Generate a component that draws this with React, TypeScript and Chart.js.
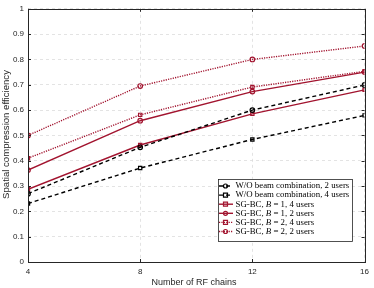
import React, { useEffect, useRef } from "react";
import { Chart, registerables } from "chart.js";

Chart.register(...registerables);

const rfChains = [4, 8, 12, 16];
const yTicks = [0, 0.1, 0.2, 0.3, 0.4, 0.5, 0.6, 0.7, 0.8, 0.9, 1];
const xTitle = "Number of RF chains";
const yTitle = "Spatial compression efficiency";

const woBc2Users = [0.27, 0.453, 0.6, 0.699];
const woBc4Users = [0.231, 0.371, 0.484, 0.579];
const sgB1Users4 = [0.287, 0.462, 0.585, 0.68];
const sgB1Users2 = [0.363, 0.558, 0.673, 0.75];
const sgB2Users4 = [0.41, 0.581, 0.691, 0.753];
const sgB2Users2 = [0.5, 0.695, 0.8, 0.853];

const BLACK = "#000000";
const RED = "#A2142F";
const AXIS = "#262626";
const SANS = "'Liberation Sans', Arial, sans-serif";
const SERIF = "'Liberation Serif', 'Times New Roman', serif";

type Series = {
  pre: string;
  italic?: string;
  post: string;
  data: number[];
  color: string;
  dash: number[];
  marker: "circle" | "rect";
};

const series: Series[] = [
  { pre: "W/O beam combination, 2 users", post: "", data: woBc2Users, color: BLACK, dash: [4, 3], marker: "circle" },
  { pre: "W/O beam combination, 4 users", post: "", data: woBc4Users, color: BLACK, dash: [4, 3], marker: "rect" },
  { pre: "SG-BC, ", italic: "B", post: " = 1, 4 users", data: sgB1Users4, color: RED, dash: [], marker: "rect" },
  { pre: "SG-BC, ", italic: "B", post: " = 1, 2 users", data: sgB1Users2, color: RED, dash: [], marker: "circle" },
  { pre: "SG-BC, ", italic: "B", post: " = 2, 4 users", data: sgB2Users4, color: RED, dash: [1.2, 1.2], marker: "rect" },
  { pre: "SG-BC, ", italic: "B", post: " = 2, 2 users", data: sgB2Users2, color: RED, dash: [1.2, 1.2], marker: "circle" },
];

function drawMarker(ctx: CanvasRenderingContext2D, kind: string, x: number, y: number, r: number) {
  ctx.beginPath();
  if (kind === "rect") ctx.rect(x - r, y - r, 2 * r, 2 * r);
  else ctx.arc(x, y, r, 0, Math.PI * 2);
  ctx.stroke();
}

const framePlugin = {
  id: "frame",
  afterDraw(chart: any) {
    const { ctx, chartArea: a } = chart;
    ctx.save();
    ctx.strokeStyle = AXIS;
    ctx.lineWidth = 1;
    ctx.setLineDash([]);
    ctx.strokeRect(Math.round(a.left) + 0.5, Math.round(a.top) + 0.5, Math.round(a.right - a.left), Math.round(a.bottom - a.top));
    // inner ticks
    const xs = chart.scales.x;
    const ys = chart.scales.y;
    ctx.beginPath();
    rfChains.forEach((v) => {
      const px = Math.round(xs.getPixelForValue(v)) + 0.5;
      ctx.moveTo(px, a.bottom); ctx.lineTo(px, a.bottom - 3);
      ctx.moveTo(px, a.top); ctx.lineTo(px, a.top + 3);
    });
    yTicks.forEach((v) => {
      const py = Math.round(ys.getPixelForValue(v)) + 0.5;
      ctx.moveTo(a.left, py); ctx.lineTo(a.left + 3, py);
      ctx.moveTo(a.right, py); ctx.lineTo(a.right - 3, py);
    });
    ctx.stroke();

    // axis titles
    ctx.fillStyle = AXIS;
    ctx.textAlign = "center";
    ctx.textBaseline = "middle";
    ctx.font = `9px ${SANS}`;
    ctx.fillText(xTitle, 194, 283);
    ctx.save();
    ctx.translate(6.5, 134.5);
    ctx.rotate(-Math.PI / 2);
    ctx.font = `9.6px ${SANS}`;
    ctx.fillText(yTitle, 0, 0);
    ctx.restore();

    // legend
    const bx = 218, by = 179, bw = 134, bh = 62;
    ctx.fillStyle = "#ffffff";
    ctx.fillRect(bx, by, bw, bh);
    ctx.strokeStyle = AXIS;
    ctx.lineWidth = 0.8;
    ctx.strokeRect(bx + 0.5, by + 0.5, bw, bh);
    ctx.font = `10px ${SERIF}`;
    const fs = (10 * 114) / ctx.measureText(series[0].pre).width;
    const rowH = 9.1;
    ctx.textAlign = "left";
    ctx.textBaseline = "middle";
    series.forEach((s, i) => {
      const cy = by + 7 + i * rowH;
      ctx.strokeStyle = s.color;
      ctx.lineWidth = 1.4;
      ctx.setLineDash(s.dash);
      ctx.beginPath();
      ctx.moveTo(bx + 1, cy);
      ctx.lineTo(bx + 15, cy);
      ctx.stroke();
      ctx.setLineDash([]);
      ctx.lineWidth = 1.2;
      drawMarker(ctx, s.marker, bx + 7.5, cy, 2);
      ctx.fillStyle = "#000";
      let tx = bx + 17.5;
      ctx.font = `${fs}px ${SERIF}`;
      ctx.fillText(s.pre, tx, cy);
      tx += ctx.measureText(s.pre).width;
      if (s.italic) {
        ctx.font = `italic ${fs}px ${SERIF}`;
        ctx.fillText(s.italic, tx, cy);
        tx += ctx.measureText(s.italic).width;
        ctx.font = `${fs}px ${SERIF}`;
        ctx.fillText(s.post, tx, cy);
      }
    });
    ctx.restore();
  },
};

export default function App() {
  const ref = useRef<HTMLCanvasElement | null>(null);
  useEffect(() => {
    if (!ref.current) return;
    const chart = new Chart(ref.current, {
      type: "line",
      data: {
        datasets: series.map((s) => ({
          label: s.pre + (s.italic || "") + s.post,
          data: s.data.map((v, i) => ({ x: rfChains[i], y: v })),
          borderColor: s.color,
          backgroundColor: "#ffffff",
          borderWidth: 1.4,
          borderDash: s.dash,
          pointStyle: s.marker,
          pointRadius: 2.3,
          pointBorderWidth: 1.2,
          pointBorderColor: s.color,
          pointBackgroundColor: "rgba(255,255,255,0)",
          tension: 0,
        })),
      },
      options: {
        animation: false,
        responsive: false,
        events: [],
        layout: { padding: { top: 5, right: 5, left: 0, bottom: 0 } },
        plugins: { legend: { display: false }, tooltip: { enabled: false } },
        scales: {
          x: {
            type: "linear",
            min: 4,
            max: 16,
            afterBuildTicks: (sc: any) => { sc.ticks = rfChains.map((v) => ({ value: v })); },
            afterFit: (sc: any) => { sc.height = 26; },
            grid: { color: "#dcdcdc", drawTicks: false, lineWidth: 0.8 },
            border: { display: false, dash: [3, 3] },
            ticks: { color: AXIS, font: { family: SANS, size: 8 }, padding: 5, maxRotation: 0 },
            title: { display: false, text: xTitle },
          },
          y: {
            type: "linear",
            min: 0,
            max: 1,
            afterBuildTicks: (sc: any) => { sc.ticks = yTicks.map((v) => ({ value: v })); },
            afterFit: (sc: any) => { sc.width = 28; },
            grid: { color: "#dcdcdc", drawTicks: false, lineWidth: 0.8 },
            border: { display: false, dash: [3, 3] },
            ticks: { color: AXIS, font: { family: SANS, size: 8 }, padding: 4, callback: (v: any) => String(Math.round(Number(v) * 10) / 10) },
            title: { display: false, text: yTitle },
          },
        },
      },
      plugins: [framePlugin],
    } as any);
    return () => chart.destroy();
  }, []);
  return (
    <div style={{ position: "fixed", left: 0, top: 0, width: 374, height: 288, background: "#fff" }}>
      <canvas ref={ref} width={374} height={288} style={{ width: 374, height: 288 }} />
    </div>
  );
}
